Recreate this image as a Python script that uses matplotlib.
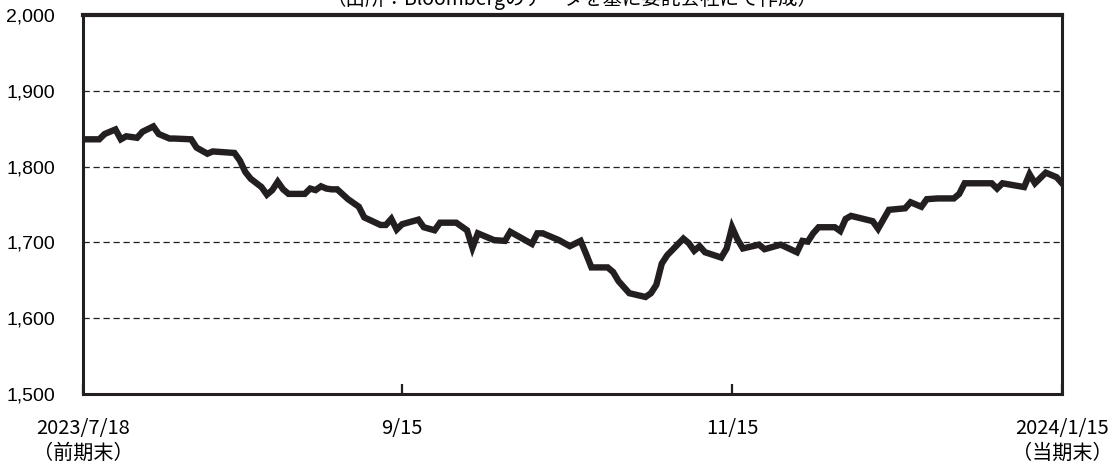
import matplotlib
matplotlib.use("Agg")
import matplotlib.pyplot as plt
import pandas as pd

plt.rcParams['font.family'] = ['Noto Sans CJK JP', 'DejaVu Sans']

# 日付と値（チャートから読み取り）
fechas = [
    "2023-07-18", "2023-07-19", "2023-07-21", "2023-07-22", "2023-07-24", "2023-07-25",
    "2023-07-26", "2023-07-28", "2023-07-29", "2023-07-31", "2023-08-01", "2023-08-03",
    "2023-08-04", "2023-08-07", "2023-08-08", "2023-08-10", "2023-08-11", "2023-08-13",
    "2023-08-15", "2023-08-16", "2023-08-17", "2023-08-18", "2023-08-20", "2023-08-21",
    "2023-08-22", "2023-08-23", "2023-08-24", "2023-08-25", "2023-08-28", "2023-08-29",
    "2023-08-30", "2023-08-31", "2023-09-01", "2023-09-02", "2023-09-03", "2023-09-05",
    "2023-09-07", "2023-09-08", "2023-09-11", "2023-09-12", "2023-09-13", "2023-09-14",
    "2023-09-15", "2023-09-18", "2023-09-19", "2023-09-21", "2023-09-22", "2023-09-25",
    "2023-09-27", "2023-09-28", "2023-09-29", "2023-10-02", "2023-10-04", "2023-10-05",
    "2023-10-09", "2023-10-10", "2023-10-11", "2023-10-14", "2023-10-16", "2023-10-18",
    "2023-10-19", "2023-10-20", "2023-10-23", "2023-10-24", "2023-10-25", "2023-10-26",
    "2023-10-27", "2023-10-30", "2023-10-31", "2023-11-01", "2023-11-02", "2023-11-03",
    "2023-11-06", "2023-11-07", "2023-11-08", "2023-11-09", "2023-11-10", "2023-11-13",
    "2023-11-14", "2023-11-15", "2023-11-16", "2023-11-17", "2023-11-20", "2023-11-21",
    "2023-11-24", "2023-11-27", "2023-11-28", "2023-11-29", "2023-11-30", "2023-12-01",
    "2023-12-04", "2023-12-05", "2023-12-06", "2023-12-07", "2023-12-11", "2023-12-12",
    "2023-12-14", "2023-12-17", "2023-12-18", "2023-12-20", "2023-12-21", "2023-12-23",
    "2023-12-26", "2023-12-27", "2023-12-28", "2024-01-02", "2024-01-03", "2024-01-04",
    "2024-01-08", "2024-01-09", "2024-01-10", "2024-01-12", "2024-01-14", "2024-01-15",
]
valores = [
    1836, 1836, 1836, 1843, 1849, 1836,
    1840, 1838, 1846, 1853, 1843, 1837,
    1837, 1836, 1825, 1817, 1820, 1819,
    1818, 1808, 1793, 1784, 1773, 1763,
    1769, 1780, 1770, 1764, 1764, 1771,
    1769, 1774, 1771, 1770, 1770, 1757,
    1747, 1733, 1723, 1723, 1731, 1717,
    1724, 1730, 1720, 1716, 1726, 1726,
    1716, 1693, 1712, 1703, 1702, 1714,
    1698, 1712, 1712, 1703, 1695, 1702,
    1685, 1667, 1667, 1661, 1649, 1641,
    1633, 1628, 1633, 1644, 1672, 1683,
    1705, 1699, 1689, 1695, 1687, 1680,
    1692, 1720, 1704, 1692, 1697, 1691,
    1697, 1687, 1702, 1701, 1712, 1720,
    1720, 1715, 1731, 1735, 1728, 1718,
    1743, 1745, 1753, 1747, 1757, 1758,
    1758, 1764, 1778, 1778, 1771, 1778,
    1773, 1790, 1778, 1792, 1786, 1778,
]
ticks_x = ["2023-07-18", "2023-09-15", "2023-11-15", "2024-01-15"]
etiquetas_x = ["2023/7/18\n（前期末）", "9/15", "11/15", "2024/1/15\n（当期末）"]
ticks_y = [1500, 1600, 1700, 1800, 1900, 2000]
titulo = "（出所：Bloombergのデータを基に委託会社にて作成）"

x = pd.to_datetime(fechas)

fig = plt.figure(figsize=(11.17, 4.70), dpi=100)
ax = fig.add_axes([83 / 1117, 1 - 394 / 470, (1062 - 83) / 1117, (394 - 15) / 470])

ax.plot(x, valores, color="#231f20", lw=4.6, solid_joinstyle="miter", zorder=3)

ax.set_xlim(pd.Timestamp(ticks_x[0]), pd.Timestamp(ticks_x[-1]))
ax.set_ylim(1500, 2000)
ax.set_yticks(ticks_y)
ax.set_yticklabels([f"{v:,}" for v in ticks_y],
                   family=['Liberation Sans Narrow', 'Liberation Sans'], fontsize=14)
ax.set_xticks(pd.to_datetime(ticks_x))
ax.set_xticklabels(etiquetas_x, fontsize=14.5, linespacing=1.25)

ax.tick_params(axis="y", length=0, pad=20)
ax.tick_params(axis="x", direction="in", length=7.5, width=1.6, pad=17, color="#231f20")

for v in ticks_y[1:-1]:
    ax.axhline(v, color="#231f20", lw=0.9, ls=(0, (5, 3)), zorder=1)

for s in ax.spines.values():
    s.set_linewidth(2.2)
    s.set_color("#231f20")
ax.spines["top"].set_linewidth(3.0)

# 上端で切れた出所表記
fig.text(0.512, 1 - 5 / 470, titulo, ha="center", va="baseline", fontsize=14)

fig.savefig("out.png", dpi=100)
